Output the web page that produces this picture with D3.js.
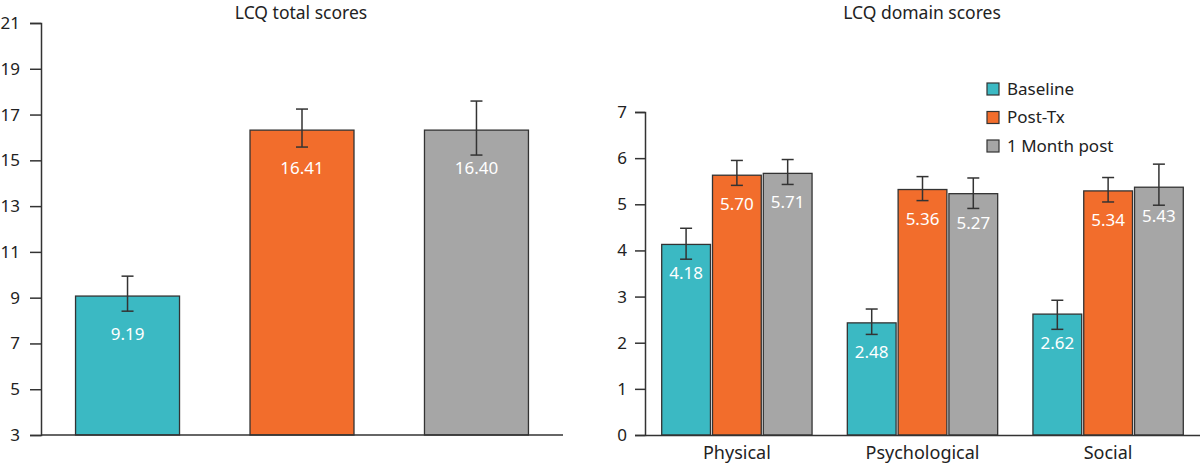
<!DOCTYPE html>
<html>
<head>
<meta charset="utf-8">
<script src="https://cdn.jsdelivr.net/npm/d3@7"></script>
<style>
  body { margin: 0; background: #fff; }
  svg { display: block; font-family: "Noto Sans", sans-serif; }
</style>
</head>
<body>
<svg id="chart" width="1200" height="467"></svg>
<script>
// ---- Data ----
const seriesNames = ["Baseline", "Post-Tx", "1 Month post"];
const seriesColors = ["#3bb9c3", "#f26d2c", "#a6a6a6"];

// Left panel: total scores
const totalMeans  = [9.07, 16.32, 16.32];
const totalErrLo  = [8.41, 15.58, 15.23];
const totalErrHi  = [9.94, 17.24, 17.59];
const totalLabels = ["9.19", "16.41", "16.40"];
const totalTicks  = [3, 5, 7, 9, 11, 13, 15, 17, 19, 21];

// Right panel: domain scores
const domains = ["Physical", "Psychological", "Social"];
const domainMeans = {
  "Baseline":     [4.13, 2.43, 2.62],
  "Post-Tx":      [5.63, 5.32, 5.29],
  "1 Month post": [5.67, 5.23, 5.37]
};
const domainErrLo = {
  "Baseline":     [3.81, 2.18, 2.29],
  "Post-Tx":      [5.41, 5.08, 5.05],
  "1 Month post": [5.43, 4.91, 4.98]
};
const domainErrHi = {
  "Baseline":     [4.48, 2.73, 2.92],
  "Post-Tx":      [5.95, 5.60, 5.58],
  "1 Month post": [5.97, 5.57, 5.87]
};
const domainLabels = {
  "Baseline":     ["4.18", "2.48", "2.62"],
  "Post-Tx":      ["5.70", "5.36", "5.34"],
  "1 Month post": ["5.71", "5.27", "5.43"]
};
const domainTicks = [0, 1, 2, 3, 4, 5, 6, 7];

// ---- Drawing ----
const svg = d3.select("#chart");
const axisColor = "#333";
const textColor = "#222";
const y0px = 435, yTopPx = 23;

function styleAxis(g) {
  g.select(".domain").attr("stroke", axisColor).attr("stroke-width", 1.5);
  g.selectAll(".tick line").attr("stroke", axisColor).attr("stroke-width", 1.5);
  g.selectAll(".tick text").attr("fill", textColor).style("font-size", "17px")
    .style("font-family", "Noto Sans, sans-serif");
}

function errorBar(g, cx, yLo, yHi, capW) {
  g.append("line").attr("x1", cx).attr("x2", cx).attr("y1", yLo).attr("y2", yHi)
    .attr("stroke", axisColor).attr("stroke-width", 1.5);
  [yLo, yHi].forEach(yy => g.append("line")
    .attr("x1", cx - capW / 2).attr("x2", cx + capW / 2).attr("y1", yy).attr("y2", yy)
    .attr("stroke", axisColor).attr("stroke-width", 1.5));
}

// Left panel
{
  const xL = d3.scaleBand().domain(seriesNames).range([41, 563])
    .paddingInner(0.404).paddingOuter(0.198);
  const yL = d3.scaleLinear().domain([3, 21]).range([y0px, yTopPx]);
  const g = svg.append("g");

  seriesNames.forEach((s, i) => {
    const x = xL(s), w = xL.bandwidth();
    g.append("rect").attr("x", x).attr("y", yL(totalMeans[i]))
      .attr("width", w).attr("height", yL(3) - yL(totalMeans[i]))
      .attr("fill", seriesColors[i]).attr("stroke", axisColor).attr("stroke-width", 1.3);
    errorBar(g, x + w / 2, yL(totalErrLo[i]), yL(totalErrHi[i]), 12);
    g.append("text").attr("x", x + w / 2).attr("y", yL(totalMeans[i]) + 44)
      .attr("text-anchor", "middle").attr("fill", "#fff").style("font-size", "17px")
      .text(totalLabels[i]);
  });

  const ay = g.append("g").attr("transform", "translate(41,0)")
    .call(d3.axisLeft(yL).tickValues(totalTicks).tickSize(11).tickPadding(10).tickFormat(d3.format("d")));
  styleAxis(ay);
  g.append("line").attr("x1", 41).attr("x2", 563).attr("y1", y0px).attr("y2", y0px)
    .attr("stroke", axisColor).attr("stroke-width", 1.5);

  g.append("text").attr("x", 301).attr("y", 19).attr("text-anchor", "middle")
    .attr("fill", textColor).style("font-size", "17.5px").text("LCQ total scores");
}

// Right panel
{
  const x0 = d3.scaleBand().domain(domains).range([645, 1200])
    .paddingInner(0.19).paddingOuter(0.09);
  const x1 = d3.scaleBand().domain(seriesNames).range([0, x0.bandwidth()]).paddingInner(0.04);
  const yR = d3.scaleLinear().domain([0, 7]).range([y0px, 112]);
  const g = svg.append("g");

  domains.forEach((d, di) => {
    seriesNames.forEach((s, si) => {
      const x = x0(d) + x1(s), w = x1.bandwidth();
      const v = domainMeans[s][di];
      g.append("rect").attr("x", x).attr("y", yR(v))
        .attr("width", w).attr("height", yR(0) - yR(v))
        .attr("fill", seriesColors[si]).attr("stroke", axisColor).attr("stroke-width", 1.3);
      errorBar(g, x + w / 2, yR(domainErrLo[s][di]), yR(domainErrHi[s][di]), 12);
      g.append("text").attr("x", x + w / 2).attr("y", yR(v) + 35)
        .attr("text-anchor", "middle").attr("fill", "#fff").style("font-size", "17px")
        .text(domainLabels[s][di]);
    });
  });

  const ay = g.append("g").attr("transform", "translate(645,0)")
    .call(d3.axisLeft(yR).tickValues(domainTicks).tickSize(10).tickPadding(8).tickFormat(d3.format("d")));
  styleAxis(ay);

  const ax = g.append("g").attr("transform", `translate(0,${y0px})`)
    .call(d3.axisBottom(x0).tickSize(0).tickPadding(11));
  ax.select(".domain").attr("stroke", axisColor).attr("stroke-width", 1.5);
  ax.selectAll(".tick text").attr("fill", textColor).style("font-size", "18px")
    .style("font-family", "Noto Sans, sans-serif");

  g.append("text").attr("x", 922).attr("y", 19).attr("text-anchor", "middle")
    .attr("fill", textColor).style("font-size", "17.5px").text("LCQ domain scores");

  // Legend
  const lg = g.append("g");
  seriesNames.forEach((s, i) => {
    const yy = 89 + i * 28.5;
    lg.append("rect").attr("x", 987).attr("y", yy - 6).attr("width", 12).attr("height", 12)
      .attr("fill", seriesColors[i]).attr("stroke", axisColor).attr("stroke-width", 1.2);
    lg.append("text").attr("x", 1007).attr("y", yy).attr("dy", "0.35em")
      .attr("fill", textColor).style("font-size", "17px").text(s);
  });
}
</script>
</body>
</html>
